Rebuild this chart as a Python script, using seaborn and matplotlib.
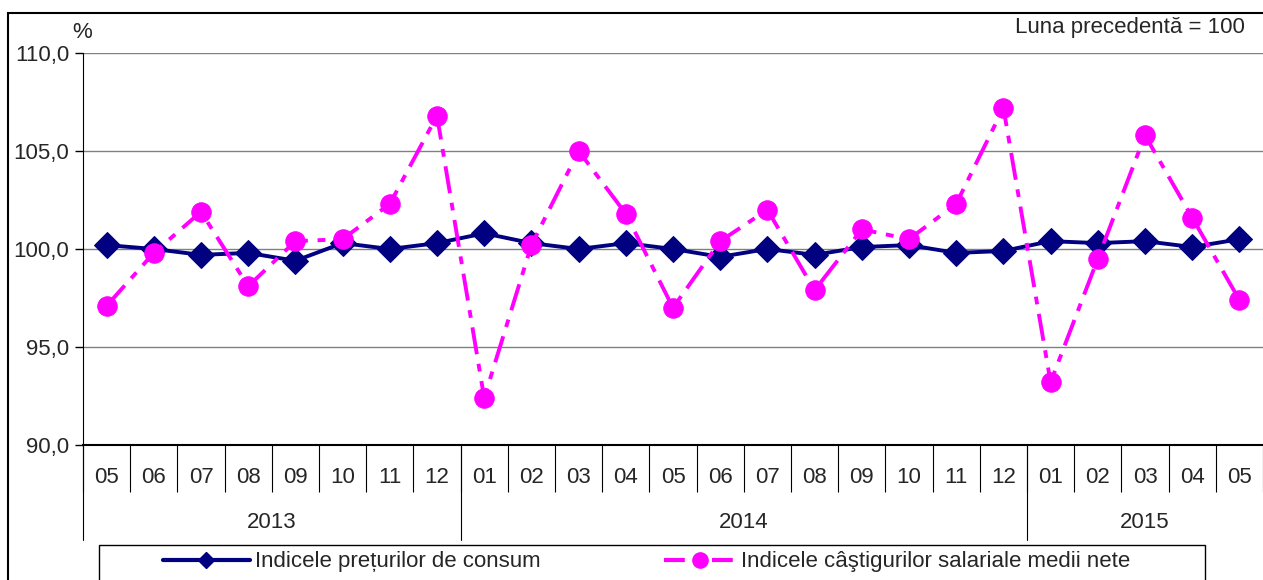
import pandas as pd
import matplotlib
matplotlib.use("Agg")
import matplotlib.pyplot as plt
import matplotlib.transforms as mtransforms
from matplotlib.patches import Rectangle
from matplotlib.lines import Line2D
from matplotlib.ticker import FuncFormatter
import seaborn as sns

months = ["05", "06", "07", "08", "09", "10", "11", "12",
          "01", "02", "03", "04", "05", "06", "07", "08", "09", "10", "11", "12",
          "01", "02", "03", "04", "05"]
years = ["2013", "2014", "2015"]
year_counts = [8, 12, 5]
cpi = [100.2, 100.0, 99.7, 99.8, 99.4, 100.3, 100.0, 100.3,
       100.8, 100.3, 100.0, 100.3, 100.0, 99.6, 100.0, 99.7, 100.1, 100.2, 99.8, 99.9,
       100.4, 100.3, 100.4, 100.1, 100.5]
wages = [97.1, 99.8, 101.9, 98.1, 100.4, 100.5, 102.3, 106.8,
         92.4, 100.2, 105.0, 101.8, 97.0, 100.4, 102.0, 97.9, 101.0, 100.5, 102.3, 107.2,
         93.2, 99.5, 105.8, 101.6, 97.4]
label_cpi = "Indicele prețurilor de consum"
label_wages = "Indicele câştigurilor salariale medii nete"

NAVY = "#000080"
MAGENTA = "#FF00FF"
DASH = (0, (7, 2.5, 2, 2.5))
FS = 16

df = pd.DataFrame({"pos": range(len(months)), "cpi": cpi, "wages": wages})

sns.set_style("white")
plt.rcParams["font.family"] = ["Liberation Sans", "DejaVu Sans"]

W, H = 1263, 580
fig = plt.figure(figsize=(W / 100, H / 100), dpi=100)
ax = fig.add_axes([83 / W, 1 - 445 / H, (W - 83) / W, (445 - 53) / H])

sns.lineplot(data=df, x="pos", y="cpi", ax=ax, color=NAVY, linewidth=2.8,
             marker="D", markersize=13, markeredgecolor=NAVY, zorder=3)
sns.lineplot(data=df, x="pos", y="wages", ax=ax, color=MAGENTA, linewidth=2.8,
             linestyle=DASH, marker="o", markersize=14,
             markeredgecolor=MAGENTA, zorder=4)

ax.set_xlim(-0.5, len(months) - 0.5)
ax.set_ylim(90, 110)
ax.set_yticks([90, 95, 100, 105, 110])
ax.yaxis.set_major_formatter(FuncFormatter(lambda v, p: f"{v:.1f}".replace(".", ",")))
ax.yaxis.grid(True, color="#808080", linewidth=1)
ax.tick_params(axis="y", direction="out", length=6, width=1, color="black",
               labelsize=FS, pad=4, left=True)

ax.set_xticks(range(len(months)))
ax.set_xticklabels(months)
ax.set_xticks([i - 0.5 for i in range(len(months) + 1)], minor=True)
ax.tick_params(axis="x", which="major", length=0, labelsize=FS, pad=16)
ax.tick_params(axis="x", which="minor", direction="out", length=34, width=0.8,
               color="black", bottom=True)
ax.set_xlabel("")
ax.set_ylabel("")
for side in ["top", "right"]:
    ax.spines[side].set_visible(False)
ax.spines["left"].set_color("black")
ax.spines["bottom"].set_color("black")
ax.spines["bottom"].set_linewidth(1.5)

# year separators and labels below the axis
trans = mtransforms.blended_transform_factory(ax.transData, ax.transAxes)
below = -95 / (445 - 53)
start = 0
bounds = [-0.5]
for yr, n in zip(years, year_counts):
    ax.text(start + (n - 1) / 2, -78 / (445 - 53), yr, transform=trans,
            ha="center", va="center", fontsize=FS)
    start += n
    bounds.append(start - 0.5)
for b in bounds[:-1]:
    ax.plot([b, b], [0, below], transform=trans, color="black", linewidth=0.8,
            clip_on=False)

# legend (two entries placed like the original)
h_cpi = Line2D([], [], color=NAVY, linewidth=3, marker="D", markersize=8)
h_wag = Line2D([], [], color=MAGENTA, linewidth=3, linestyle=(0, (5, 2.5, 1.5, 2.5)),
               marker="o", markersize=11)
leg1 = fig.legend([h_cpi], [label_cpi], frameon=False, loc="center left",
                  bbox_to_anchor=(163 / W, 1 - 562 / H), fontsize=FS,
                  handlelength=3.9, handletextpad=0.25, borderaxespad=0, borderpad=0)
leg2 = fig.legend([h_wag], [label_wages], frameon=False, loc="center left",
                  bbox_to_anchor=(664 / W, 1 - 562 / H), fontsize=FS,
                  handlelength=3.2, handletextpad=0.25, borderaxespad=0, borderpad=0)
fig.patches.append(Rectangle((99 / W, -0.1), (1205 - 99) / W, 0.1 + (580 - 545) / H,
                             transform=fig.transFigure, fill=False,
                             edgecolor="black", linewidth=1))

# outer frame
fig.patches.append(Rectangle((8 / W, -0.1), 1.2, 0.1 + (580 - 13) / H,
                             transform=fig.transFigure, fill=False,
                             edgecolor="black", linewidth=1.5))

fig.text(82 / W, 1 - 33 / H, "%", ha="center", va="center", fontsize=FS)
fig.text(1245 / W, 1 - 28 / H, "Luna precedentă = 100", ha="right", va="center",
         fontsize=FS)

fig.savefig("out.png", dpi=100)
